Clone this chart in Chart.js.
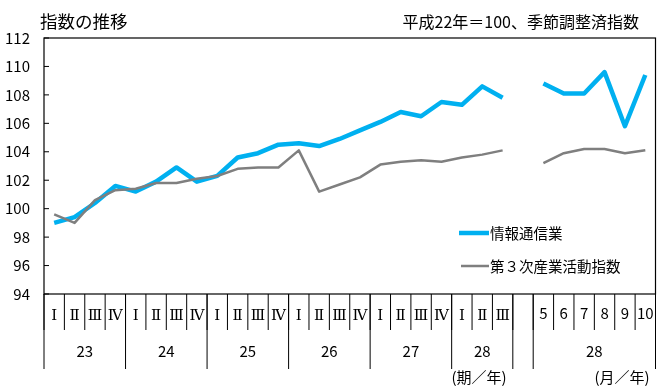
<!DOCTYPE html>
<html><head><meta charset="utf-8">
<script src="https://cdn.jsdelivr.net/npm/chart.js@4"></script>
<style>html,body{margin:0;padding:0;background:#fff}#wrap{width:670px;height:392px;position:relative}</style>
</head><body><div id="wrap"><canvas id="c" width="670" height="392"></canvas></div>
<script>
// ---- data ----
const periodLabels = ["Ⅰ","Ⅱ","Ⅲ","Ⅳ","Ⅰ","Ⅱ","Ⅲ","Ⅳ","Ⅰ","Ⅱ","Ⅲ","Ⅳ","Ⅰ","Ⅱ","Ⅲ","Ⅳ","Ⅰ","Ⅱ","Ⅲ","Ⅳ","Ⅰ","Ⅱ","Ⅲ","","5","6","7","8","9","10"];
const yearLabels = ["23","24","25","26","27","28","","28"];
const yearSpans  = [4,4,4,4,4,3,1,6];
const infoComm   = [99.0,99.4,100.4,101.6,101.2,101.9,102.9,101.9,102.3,103.6,103.9,104.5,104.6,104.4,104.9,105.5,106.1,106.8,106.5,107.5,107.3,108.6,107.8,null,108.8,108.1,108.1,109.6,105.8,109.4];
const tertiary   = [99.6,99.0,100.6,101.3,101.4,101.8,101.8,102.1,102.3,102.8,102.9,102.9,104.1,101.2,101.7,102.2,103.1,103.3,103.4,103.3,103.6,103.8,104.1,null,103.2,103.9,104.2,104.2,103.9,104.1];
const seriesNames = ["情報通信業","第３次産業活動指数"];
const titleText = "指数の推移";
const noteText = "平成22年＝100、季節調整済指数";
const quarterUnit = "(期／年)";
const monthUnit = "(月／年)";
const yMin = 94, yMax = 112, yStep = 2;

const SANS = "'Noto Sans CJK JP','Noto Sans',sans-serif";
const SERIF = "'DejaVu Serif','Noto Sans CJK JP',serif";
const BLUE = "#00B0F0", GRAY = "#7F7F7F";

const deco = {
  id: 'deco',
  afterDraw(chart) {
    const ctx = chart.ctx, a = chart.chartArea, xs = chart.scales.x, ys = chart.scales.y;
    const n = periodLabels.length;
    const cw = (a.right - a.left) / n;
    const bx = k => a.left + cw * k;
    ctx.save();
    // frame
    ctx.strokeStyle = '#000'; ctx.lineWidth = 1.2;
    ctx.strokeRect(a.left, a.top, a.right - a.left, a.bottom - a.top);
    // y inward ticks
    ctx.lineWidth = 1;
    for (let v = yMin; v <= yMax; v += yStep) {
      const y = ys.getPixelForValue(v);
      ctx.beginPath(); ctx.moveTo(a.left, y); ctx.lineTo(a.left + 5, y); ctx.stroke();
    }
    // row 1 separators
    for (let k = 0; k <= n; k++) {
      ctx.beginPath(); ctx.moveTo(bx(k), a.bottom); ctx.lineTo(bx(k), a.bottom + 36); ctx.stroke();
    }
    // year separators
    let k = 0;
    const bounds = [0];
    yearSpans.forEach(s => { k += s; bounds.push(k); });
    bounds.forEach(b => {
      ctx.beginPath(); ctx.moveTo(bx(b), a.bottom); ctx.lineTo(bx(b), a.bottom + 75); ctx.stroke();
    });
    // row 1 labels
    ctx.fillStyle = '#000'; ctx.textAlign = 'center'; ctx.textBaseline = 'middle';
    periodLabels.forEach((lab, i) => {
      const x = xs.getPixelForValue(i);
      if (/^\d+$/.test(lab)) { ctx.font = "15px " + SANS; ctx.fillText(lab, x, a.bottom + 19); }
      else { ctx.font = "15px " + SERIF; ctx.fillText(lab, x, a.bottom + 22); }
    });
    // year labels
    ctx.font = "15px " + SANS;
    yearLabels.forEach((lab, j) => {
      const x = (bx(bounds[j]) + bx(bounds[j + 1])) / 2;
      ctx.fillText(lab, x, a.bottom + 57);
    });
    // unit labels
    ctx.font = "15px " + SANS;
    ctx.fillText(quarterUnit, 479, a.bottom + 83);
    ctx.fillText(monthUnit, 622, a.bottom + 83);
    // title & note
    ctx.textAlign = 'left'; ctx.font = "17.5px " + SANS;
    ctx.fillText(titleText, 40, 21);
    ctx.textAlign = 'right'; ctx.font = "16px " + SANS;
    ctx.fillText(noteText, 639, 22);
    // legend
    ctx.textAlign = 'left'; ctx.font = "14.5px " + SANS;
    ctx.lineCap = 'butt';
    ctx.strokeStyle = BLUE; ctx.lineWidth = 4.5;
    ctx.beginPath(); ctx.moveTo(459, 233); ctx.lineTo(489, 233); ctx.stroke();
    ctx.fillText(seriesNames[0], 490, 233);
    ctx.strokeStyle = GRAY; ctx.lineWidth = 2.5;
    ctx.beginPath(); ctx.moveTo(461, 266); ctx.lineTo(489, 266); ctx.stroke();
    ctx.fillText(seriesNames[1], 490, 266);
    ctx.restore();
  }
};

new Chart(document.getElementById('c'), {
  type: 'line',
  data: {
    labels: periodLabels.map((l, i) => i + ':' + l),
    datasets: [
      { label: seriesNames[1], data: tertiary, borderColor: GRAY, borderWidth: 2.5, pointRadius: 0, tension: 0, spanGaps: false, borderJoinStyle: 'round', fill: false },
      { label: seriesNames[0], data: infoComm, borderColor: BLUE, borderWidth: 4.5, pointRadius: 0, tension: 0, spanGaps: false, borderJoinStyle: 'round', fill: false }
    ]
  },
  options: {
    responsive: false, animation: false, devicePixelRatio: 1,
    layout: { padding: { top: 38, right: 14.5, bottom: 98, left: 0 } },
    plugins: { legend: { display: false }, tooltip: { enabled: false }, title: { display: false } },
    scales: {
      x: { display: false, offset: true },
      y: {
        min: yMin, max: yMax,
        ticks: { stepSize: yStep, color: '#000', padding: 14, font: { size: 15, family: SANS } },
        grid: { display: false, drawTicks: false },
        border: { display: false },
        afterFit: s => { s.width = 44; }
      }
    }
  },
  plugins: [deco]
});
</script></body></html>
